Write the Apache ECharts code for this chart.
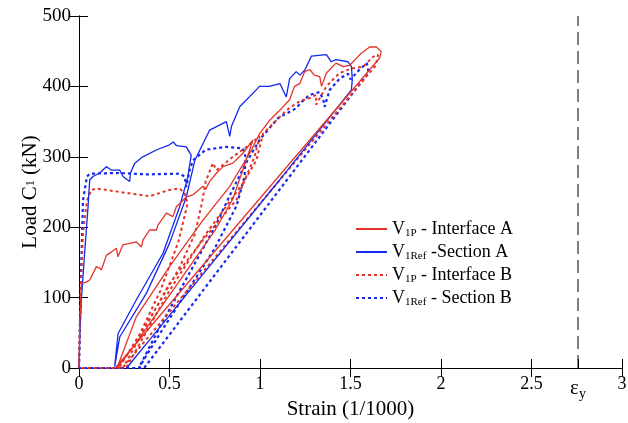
<!doctype html>
<html><head><meta charset="utf-8" />
<style>html,body,#app{margin:0;padding:0;width:628px;height:423px;background:#fff}</style>
</head><body><div id="app"></div>
<script src="https://cdn.jsdelivr.net/npm/echarts@6/dist/echarts.min.js"></script>
<script>
// strain (1/1000), load (kN)
const blueA = [[0,0],[0.005,50],[0.013,97],[0.031,163],[0.05,229],[0.059,267],[0.077,272],[0.114,277],[0.151,286],[0.18,281],[0.225,281],[0.243,272],[0.28,265],[0.284,277],[0.308,291],[0.352,300],[0.43,310],[0.5,317],[0.52,321],[0.538,316],[0.593,314],[0.62,302],[0.6,270],[0.556,229],[0.464,163],[0.317,97],[0.216,49],[0.197,2],[0.207,0],[0.225,44],[0.372,106],[0.5,177],[0.593,243],[0.64,295],[0.722,338],[0.814,350],[0.833,329],[0.842,343],[0.888,371],[0.998,400],[1.05,400],[1.11,404],[1.127,395],[1.145,385],[1.164,411],[1.2,421],[1.22,416],[1.247,423],[1.284,443],[1.367,445],[1.394,435],[1.42,438],[1.486,435],[1.505,428],[1.51,410],[1.505,395],[1.108,267],[0.39,40],[0.263,0]];
const redA = [[0,0],[0.004,60],[0.013,120],[0.022,120],[0.04,122],[0.059,125],[0.077,134],[0.096,144],[0.114,142],[0.124,139],[0.151,160],[0.18,165],[0.207,170],[0.215,158],[0.243,175],[0.317,179],[0.345,172],[0.354,182],[0.39,196],[0.428,196],[0.436,203],[0.483,220],[0.519,215],[0.538,229],[0.593,243],[0.63,246],[0.685,258],[0.7,254],[0.722,265],[0.76,277],[0.796,286],[0.85,291],[0.906,305],[0.961,324],[0.93,300],[0.85,240],[0.75,195],[0.6,140],[0.45,85],[0.3,30],[0.21,0],[0.22,0],[0.317,73],[0.5,144],[0.685,210],[0.833,258],[0.943,305],[0.998,333],[1.054,352],[1.109,366],[1.164,381],[1.19,400],[1.22,404],[1.247,421],[1.275,424],[1.3,416],[1.33,414],[1.34,400],[1.367,419],[1.42,433],[1.46,428],[1.496,430],[1.54,442],[1.56,447],[1.606,456],[1.643,456],[1.67,449],[1.66,440],[0.2,0]];
const redB = [[0,0],[0.005,60],[0.012,130],[0.022,191],[0.044,238],[0.068,253],[0.096,255],[0.225,250],[0.39,244],[0.5,253],[0.556,255],[0.584,248],[0.6,234],[0.55,180],[0.45,110],[0.33,45],[0.22,0],[0.23,0],[0.437,90],[0.55,140],[0.64,190],[0.68,235],[0.7,265],[0.74,291],[0.76,281],[0.85,300],[0.925,314],[0.998,329],[0.97,300],[0.87,239],[0.685,182],[0.5,120],[0.35,50],[0.243,0],[0.26,0],[0.5,110],[0.7,190],[0.9,260],[0.98,295],[1.017,333],[1.146,366],[1.2,376],[1.24,381],[1.256,381],[1.31,388],[1.31,374],[1.367,400],[1.4,409],[1.44,419],[1.5,425],[1.57,428],[1.624,442],[1.652,445],[1.64,430],[0.24,0],[0,0]];
const blueB = [[0,0],[0.005,60],[0.01,120],[0.022,238],[0.044,272],[0.06,276],[0.225,277],[0.372,275],[0.556,276],[0.584,272],[0.593,257],[0.61,280],[0.63,295],[0.7,310],[0.81,314],[0.906,312],[0.92,300],[0.915,272],[0.87,230],[0.75,170],[0.6,110],[0.45,50],[0.33,0],[0.34,0],[0.45,60],[0.6,130],[0.75,200],[0.833,245],[0.92,290],[1.0,325],[1.1,355],[1.2,369],[1.23,378],[1.275,388],[1.33,392],[1.35,381],[1.357,371],[1.385,395],[1.44,411],[1.486,418],[1.5,410],[1.55,424],[1.59,433],[1.6,420],[0.36,0],[0,0]];
const yieldStrain = 2.757;
const xTicks = [0, 0.5, 1, 1.5, 2, 2.5, yieldStrain, 3];
const names = ['V1P - Interface A', 'V1Ref -Section A', 'V1P - Interface B', 'V1Ref - Section B'];
const legendRich = {
  'V1P - Interface A': '{n|V}{s|1P}{n| - Interface A}',
  'V1Ref -Section A': '{n|V}{s|1Ref}{n| -Section A}',
  'V1P - Interface B': '{n|V}{s|1P}{n| - Interface B}',
  'V1Ref - Section B': '{n|V}{s|1Ref}{n| - Section B}'
};

const RED = '#e3342a', BLUE = '#1428f0', FONT = 'Liberation Serif';
const chart = echarts.init(document.getElementById('app'));
const axisCommon = { axisLine:{ lineStyle:{ color:'#000', width:1 } }, splitLine:{ show:false }, nameMoveOverlap:false };
const tickText = { fontFamily:FONT, fontSize:18, color:'#000' };
const yTickText = { fontFamily:FONT, fontSize:19, color:'#000' };
chart.setOption({
  backgroundColor:'#fff',
  animation:false,
  textStyle:{ fontFamily:FONT, color:'#000' },
  grid:{ left:79, right:6, top:16, bottom:55, outerBoundsMode:'none' },
  legend:{
    data:names, orient:'vertical', left:350, top:215, itemWidth:31, itemHeight:14, itemGap:4,
    itemStyle:{ opacity:0 },
    formatter: n => legendRich[n],
    textStyle:{ fontFamily:FONT, rich:{ n:{ fontFamily:FONT, fontSize:18, color:'#000', lineHeight:20 }, s:{ fontFamily:FONT, fontSize:11, color:'#000', lineHeight:20, verticalAlign:'bottom' } } }
  },
  xAxis:[
    Object.assign({ type:'value', min:0, max:3, position:'bottom',
      name:'Strain (1/1000)', nameLocation:'middle', nameGap:31,
      nameTextStyle:{ fontFamily:FONT, fontSize:21, color:'#000' },
      axisTick:{ inside:true, length:9, customValues:xTicks, lineStyle:{ color:'#000' } },
      axisLabel:{ customValues:xTicks, margin:7, fontFamily:FONT, fontSize:18, color:'#000',
        formatter: v => Math.abs(v - yieldStrain) < 1e-6 ? '{e|ε}{y|y}' : '{t|' + v + '}',
        rich:{ t:tickText, e:{ fontFamily:FONT, fontSize:21, color:'#000' }, y:{ fontFamily:FONT, fontSize:14, color:'#000', padding:[12,0,0,0] } } }
    }, axisCommon),
    Object.assign({ type:'value', min:0, max:3, interval:0.5, position:'top',
      axisTick:{ inside:true, length:9, lineStyle:{ color:'#000' } }, axisLabel:{ show:false } }, axisCommon)
  ],
  yAxis:[
    Object.assign({ type:'value', min:0, max:500, interval:100, position:'left',
      name:'{a|Load C}{s|1}{a| (kN)}', nameLocation:'middle', nameGap:38, nameRotate:90,
      nameTextStyle:{ fontFamily:FONT, rich:{ a:{ fontFamily:FONT, fontSize:21, color:'#000' }, s:{ fontFamily:FONT, fontSize:12, color:'#000' } } },
      axisTick:{ inside:true, length:9, lineStyle:{ color:'#000' } },
      axisLabel:{ margin:8, fontFamily:FONT, fontSize:19, color:'#000', formatter: v => '{t|' + v + '}', rich:{ t:yTickText } }
    }, axisCommon),
    Object.assign({ type:'value', min:0, max:500, interval:100, position:'right',
      axisTick:{ inside:true, length:9, lineStyle:{ color:'#000' } }, axisLabel:{ show:false } }, axisCommon)
  ],
  series:[
    { name:names[3], type:'line', data:blueB, symbol:'none', lineStyle:{ color:BLUE, width:2.2, type:[3,3] }, itemStyle:{ color:BLUE } },
    { name:names[2], type:'line', data:redB, symbol:'none', lineStyle:{ color:RED, width:2, type:[3,3] }, itemStyle:{ color:RED } },
    { name:names[1], type:'line', data:blueA, symbol:'none', lineStyle:{ color:BLUE, width:1.3 }, itemStyle:{ color:BLUE } },
    { name:names[0], type:'line', data:redA, symbol:'none', lineStyle:{ color:RED, width:1.3 }, itemStyle:{ color:RED } },
    { name:'εy', type:'line', data:[[yieldStrain,0],[yieldStrain,500]], symbol:'none', lineStyle:{ color:'#000', width:1, type:[13,6] }, silent:true }
  ]
});
</script></body></html>
